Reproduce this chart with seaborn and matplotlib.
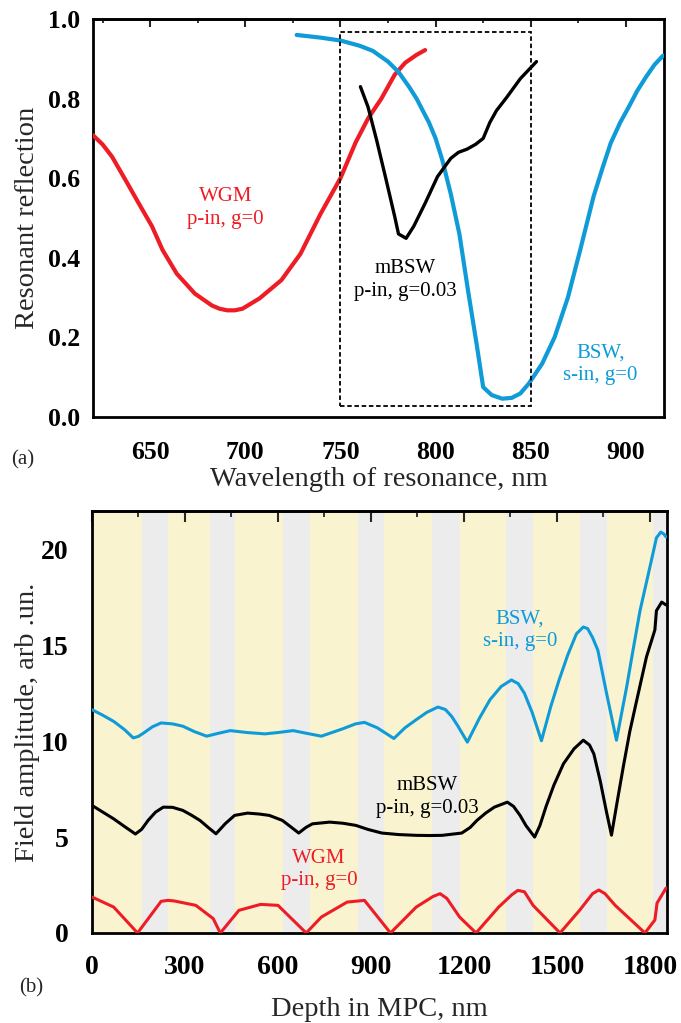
import numpy as np
import pandas as pd
import matplotlib
matplotlib.use("Agg")
import matplotlib.pyplot as plt
import seaborn as sns
from matplotlib.ticker import MultipleLocator
from matplotlib.patches import Rectangle

sns.set_style("white")
plt.rcParams["font.family"] = ["Liberation Serif", "DejaVu Serif"]

RED = "#ee1c25"
BLUE = "#0f9bd7"
YELLOW = "#f9f3cf"
GREY = "#ececec"

# ---- panel (a): resonant reflection vs wavelength ----
wgm_nm = [620, 625, 630, 637, 644, 651, 656.5, 664, 673.5, 682.5, 686.5, 690.5, 694.5,
          698.5, 707.5, 719, 729, 739.5, 750, 758, 764.5, 771.5, 778.5, 784, 790, 794.5]
wgm_r = [0.708, 0.685, 0.654, 0.596, 0.537, 0.479, 0.42, 0.36, 0.31, 0.28, 0.272, 0.268,
         0.268, 0.272, 0.298, 0.344, 0.41, 0.51, 0.60, 0.69, 0.75, 0.80, 0.86, 0.89, 0.91,
         0.922]

bsw_nm = [727, 740, 750, 760, 767, 775, 780.5, 786, 790, 796.5, 800, 803.5, 808, 812.5,
          817, 821.5, 825, 829.5, 835, 840, 844.5, 849, 856, 862.5, 869.5, 876, 883, 888,
          892, 897, 901.5, 906, 910.5, 915, 919.5]
bsw_r = [0.96, 0.953, 0.946, 0.933, 0.92, 0.893, 0.867, 0.83, 0.80, 0.74, 0.70, 0.646,
         0.56, 0.46, 0.319, 0.185, 0.075, 0.055, 0.046, 0.048, 0.059, 0.084, 0.134, 0.20,
         0.30, 0.42, 0.554, 0.63, 0.688, 0.74, 0.779, 0.82, 0.854, 0.885, 0.908]

mbsw_nm = [760.5, 764.5, 769, 774, 778.5, 780.5, 784.5, 788.5, 794.5, 801, 808, 812,
           816.5, 821, 825, 828.5, 832, 837.5, 844.5, 853]
mbsw_r = [0.83, 0.779, 0.696, 0.596, 0.504, 0.46, 0.449, 0.479, 0.537, 0.604, 0.65, 0.665,
          0.673, 0.685, 0.70, 0.74, 0.77, 0.804, 0.85, 0.893]

box_x = [750, 850]
box_y = [0.028, 0.968]

# ---- panel (b): field amplitude vs depth ----
layer_edges = [0, 160, 246, 382, 462, 617, 703, 857, 942, 1098, 1186, 1335, 1423,
               1574, 1660, 1811, 1855]

bsw_d = [0, 35, 70, 105, 133, 150, 167, 195, 223, 260, 293, 330, 370, 405, 446, 500,
         558, 600, 649, 695, 740, 810, 850, 879, 920, 974, 1010, 1046, 1080, 1116, 1140,
         1160, 1180, 1211, 1250, 1284, 1320, 1353, 1375, 1395, 1420, 1450, 1480, 1507,
         1535, 1563, 1585, 1599, 1615, 1632, 1660, 1692, 1725, 1745, 1768, 1800, 1821,
         1835, 1845, 1852]
bsw_f = [11.64, 11.35, 11.03, 10.6, 10.17, 10.25, 10.43, 10.75, 10.95, 10.9, 10.78, 10.5,
         10.26, 10.4, 10.55, 10.45, 10.38, 10.45, 10.55, 10.4, 10.26, 10.65, 10.9, 10.98,
         10.7, 10.14, 10.7, 11.12, 11.5, 11.78, 11.65, 11.3, 10.8, 9.95, 11.2, 12.16,
         12.85, 13.19, 13.0, 12.5, 11.5, 10.02, 11.8, 13.19, 14.5, 15.6, 15.95, 15.87,
         15.4, 14.74, 12.5, 10.05, 12.83, 14.7, 16.8, 19.08, 20.6, 20.9, 20.8, 20.65]

mbsw_d = [0, 35, 70, 105, 140, 160, 181, 205, 230, 260, 293, 320, 349, 375, 400, 430,
          460, 502, 540, 572, 614, 640, 667, 690, 711, 767, 810, 851, 890, 935, 990, 1046,
          1090, 1130, 1193, 1220, 1242, 1270, 1298, 1340, 1360, 1381, 1400, 1428, 1445,
          1465, 1490, 1521, 1555, 1585, 1605, 1619, 1640, 1660, 1676, 1695, 1714, 1735,
          1757, 1789, 1816, 1821, 1838, 1852]
mbsw_f = [6.65, 6.3, 5.95, 5.55, 5.16, 5.4, 5.87, 6.3, 6.56, 6.55, 6.39, 6.15, 5.86, 5.5,
          5.17, 5.7, 6.13, 6.25, 6.2, 6.13, 5.87, 5.55, 5.21, 5.5, 5.69, 5.78, 5.72, 5.61,
          5.4, 5.21, 5.13, 5.09, 5.08, 5.09, 5.21, 5.5, 5.87, 6.25, 6.56, 6.82, 6.6, 6.13,
          5.6, 5.0, 5.6, 6.6, 7.7, 8.82, 9.6, 10.05, 9.8, 9.34, 7.9, 6.3, 5.1, 6.9, 8.66,
          10.5, 12.1, 14.4, 15.8, 16.8, 17.25, 17.1]

wgm_d = [0, 70, 147, 223, 245, 265, 335, 391, 414, 474, 544, 600, 691, 740, 823, 879,
         963, 1046, 1100, 1123, 1145, 1186, 1239, 1312, 1355, 1374, 1395, 1423, 1510,
         1574, 1615, 1635, 1655, 1688, 1784, 1816, 1823, 1852]
wgm_f = [1.875, 1.35, 0, 1.65, 1.7, 1.67, 1.44, 0.75, 0, 1.18, 1.49, 1.44, 0, 0.83, 1.61,
         1.70, 0, 1.35, 1.9, 2.05, 1.8, 0.83, 0, 1.35, 2.0, 2.22, 2.15, 1.44, 0, 1.2, 2.05,
         2.24, 2.05, 1.44, 0, 0.68, 1.56, 2.34]


def curve(ax, x, y, color, lw):
    df = pd.DataFrame({"x": x, "y": y})
    sns.lineplot(data=df, x="x", y="y", color=color, lw=lw, sort=False,
                 estimator=None, ax=ax, zorder=3)


def style_axes(ax, fs, major_len, minor_len, xpad, ypad, xmaj, xmin):
    for s in ax.spines.values():
        s.set_linewidth(2.0)
        s.set_color("black")
    ax.tick_params(axis="both", which="major", direction="out", length=major_len,
                   width=1.8, labelsize=fs, colors="black")
    ax.tick_params(axis="both", which="minor", direction="out", length=minor_len, width=1.5)
    ax.tick_params(axis="x", which="major", pad=xpad)
    ax.tick_params(axis="y", which="major", pad=ypad)
    for lab in ax.get_xticklabels() + ax.get_yticklabels():
        lab.set_fontweight("bold")
    # inward ticks along the top spine
    top = ax.secondary_xaxis("top")
    top.set_xticks(xmaj)
    top.xaxis.set_minor_locator(MultipleLocator(xmin))
    top.tick_params(axis="x", which="major", direction="in", length=major_len, width=1.5,
                    labeltop=False)
    top.tick_params(axis="x", which="minor", direction="in", length=minor_len, width=1.3)
    top.spines["top"].set_linewidth(2.0)


fig = plt.figure(figsize=(6.81, 10.23), dpi=100)
ax1 = fig.add_axes([0.1366, 0.5924, 0.8384, 0.389])
ax2 = fig.add_axes([0.1351, 0.0880, 0.8443, 0.4125])

# panel (a)
curve(ax1, wgm_nm, wgm_r, RED, 3.0)
curve(ax1, bsw_nm, bsw_r, BLUE, 3.0)
curve(ax1, mbsw_nm, mbsw_r, "black", 2.4)
ax1.add_patch(Rectangle((box_x[0], box_y[0]), box_x[1] - box_x[0], box_y[1] - box_y[0],
                        fill=False, ls=(0, (2.5, 1.5)), lw=1.3, ec="black", zorder=4))
ax1.set_xlim(620, 920)
ax1.set_ylim(0, 1.0)
a_xt = [650, 700, 750, 800, 850, 900]
ax1.set_xticks(a_xt)
ax1.set_yticks([0.0, 0.2, 0.4, 0.6, 0.8, 1.0])
ax1.yaxis.set_major_formatter(plt.FuncFormatter(lambda v, p: f"{v:.1f}"))
ax1.xaxis.set_minor_locator(MultipleLocator(25))
ax1.yaxis.set_minor_locator(MultipleLocator(0.1))
style_axes(ax1, 18.5, 5.5, 3, 12, 4, a_xt, 25)
ax1.set_xlabel("Wavelength of resonance, nm", fontsize=20.5)
ax1.set_ylabel("Resonant reflection", fontsize=20.5)
ax1.xaxis.set_label_coords(0.5, -0.125)
ax1.yaxis.set_label_coords(-0.093, 0.5)
ax1.text(689.5, 0.525, "WGM\np-in, g=0", color=RED, fontsize=15, ha="center",
         va="center", linespacing=1.25)
ax1.text(784, 0.344, "mBSW\np-in, g=0.03", color="black", fontsize=15, ha="center",
         va="center", linespacing=1.25)
ax1.text(886.5, 0.132, "BSW,\ns-in, g=0", color=BLUE, fontsize=15, ha="center",
         va="center", linespacing=1.25)

# panel (b)
for i in range(len(layer_edges) - 1):
    ax2.axvspan(layer_edges[i], layer_edges[i + 1], color=YELLOW if i % 2 == 0 else GREY,
                lw=0, zorder=0)
curve(ax2, bsw_d, bsw_f, BLUE, 2.2)
curve(ax2, mbsw_d, mbsw_f, "black", 2.2)
curve(ax2, wgm_d, wgm_f, RED, 2.2)
ax2.set_xlim(0, 1855)
ax2.set_ylim(0, 22)
b_xt = [0, 300, 600, 900, 1200, 1500, 1800]
ax2.set_xticks(b_xt)
ax2.set_yticks([0, 5, 10, 15, 20])
ax2.xaxis.set_minor_locator(MultipleLocator(150))
ax2.yaxis.set_minor_locator(MultipleLocator(2.5))
style_axes(ax2, 20, 8, 4, 8, 9, b_xt, 150)
ax2.set_xlabel("Depth in MPC, nm", fontsize=20.5)
ax2.set_ylabel("Field amplitude, arb .un.", fontsize=20.5)
ax2.xaxis.set_label_coords(0.5, -0.152)
ax2.yaxis.set_label_coords(-0.09, 0.5)
ax2.text(1381, 15.8, "BSW,\ns-in, g=0", color=BLUE, fontsize=15, ha="center",
         va="center", linespacing=1.25)
ax2.text(1081, 7.08, "mBSW\np-in, g=0.03", color="black", fontsize=15, ha="center",
         va="center", linespacing=1.25)
ax2.text(732, 3.3, "WGM\np-in, g=0", color=RED, fontsize=15, ha="center",
         va="center", linespacing=1.25)

fig.text(0.034, 0.550, "(a)", fontsize=15, ha="center", va="center")
fig.text(0.046, 0.034, "(b)", fontsize=15, ha="center", va="center")

fig.savefig("out.png", dpi=100)
